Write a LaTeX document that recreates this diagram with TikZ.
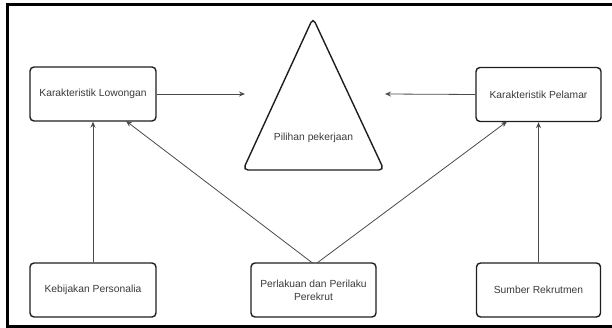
\documentclass[tikz,border=0pt]{standalone}
\usepackage{fontspec}
\setmainfont{Liberation Sans}
\usetikzlibrary{arrows.meta}
\definecolor{txt}{HTML}{3A3A3A}
\definecolor{edge}{HTML}{1E1E1E}
\definecolor{conn}{HTML}{4A4A4A}
\begin{document}
\begin{tikzpicture}[x=1pt,y=-1pt,
  box/.style={draw=edge,line width=1.4pt,rounded corners=4pt,minimum width=126pt,minimum height=54pt,inner sep=2pt,align=center,text=txt,font=\fontsize{10.3}{13}\selectfont},
  conn/.style={draw=conn,line width=0.8pt,-{Stealth[length=6pt,width=5pt]}},
  frame/.style={line width=3pt,black}]
\useasboundingbox (0,0) rectangle (612,328);
\draw[frame] (612,4.5) -- (7.5,4.5) -- (7.5,326.5) -- (612,326.5);
\node[box] (low) at (93,94) {Karakteristik Lowongan};
\node[box,minimum width=125pt] (pel) at (538.5,94.5) {Karakteristik Pelamar};
\node[box] (keb) at (93,290) {Kebijakan Personalia};
\node[box,minimum width=125pt] (per) at (313.5,290) {Perlakuan dan Perilaku\\Perekrut};
\node[box,minimum width=124pt] (sum) at (538.5,290) {Sumber Rekrutmen};
\draw[draw=edge,line width=1.4pt,rounded corners=5pt] (313,18) -- (384,170) -- (243,170) -- cycle;
\node[text=txt,font=\fontsize{10.3}{13}\selectfont] (pil) at (313.5,138) {Pilihan pekerjaan};
\coordinate (tl) at (245,94);
\coordinate (tr) at (385,94);
\coordinate (pa) at (312.5,263);
\coordinate (pb) at (317,263);
\coordinate (la) at (126,121);
\coordinate (pr) at (507,121.5);
\draw[conn] (low.east) -- (tl);
\draw[conn] (pel.west) -- (tr);
\draw[conn] (keb.north) -- (low.south);
\draw[conn] (sum.north) -- (pel.south);
\draw[conn] (pa) -- (la);
\draw[conn] (pb) -- (pr);
\end{tikzpicture}
\end{document}
